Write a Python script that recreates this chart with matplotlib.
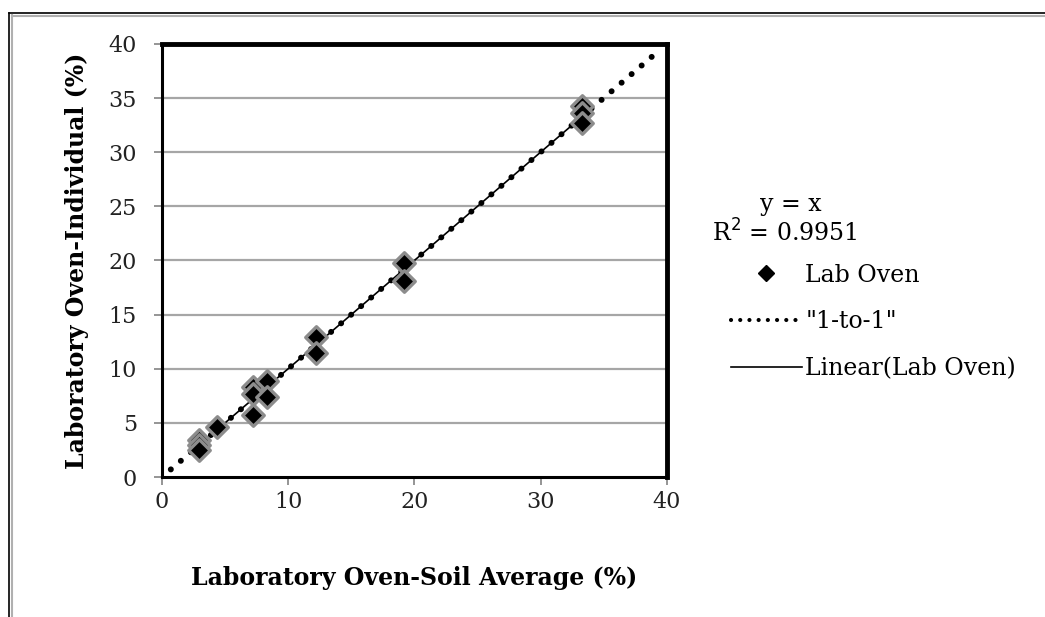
import numpy as np
import matplotlib.pyplot as plt
from matplotlib.lines import Line2D

# soil average vs individual readings (%)
soil_avg = [2.9, 2.9, 2.9, 4.4, 7.2, 7.2, 7.2, 8.3, 8.3, 12.2, 12.2, 19.2, 19.2, 33.3, 33.3, 33.3]
individual = [3.4, 3.0, 2.5, 4.6, 8.3, 7.7, 5.7, 8.9, 7.4, 12.9, 11.5, 19.8, 18.1, 34.3, 33.6, 32.7]
one_to_one = [0.7, 39.3]
x_ticks = [0, 10, 20, 30, 40]
y_ticks = [0, 5, 10, 15, 20, 25, 30, 35, 40]

plt.rcParams['font.family'] = ['DejaVu Serif']

fig = plt.figure(figsize=(10.45, 6.17), dpi=100)
ax = fig.add_axes([0.155, 0.2269, 0.483, 0.7018])

# gridlines
for yv in y_ticks[1:-1]:
    ax.axhline(yv, color='#a6a6a6', lw=1.6, zorder=0)

# 1-to-1 dotted line
ax.plot(one_to_one, one_to_one, color='black', lw=4.3,
        linestyle=(0, (0.01, 2.2)), dash_capstyle='round', zorder=2)

# linear fit (y = x)
fit_x = np.array([min(soil_avg), max(soil_avg)])
ax.plot(fit_x, fit_x, color='black', lw=1.2, zorder=3)

ax.scatter(soil_avg, individual, marker='D', s=120, c='black',
           edgecolors='#8c8c8c', linewidths=2.4, zorder=4)

ax.set_xlim(0, 40)
ax.set_ylim(0, 40)
ax.set_xticks(x_ticks)
ax.set_yticks(y_ticks)
ax.tick_params(direction='out', length=6, width=1.3, color='#8c8c8c',
               labelcolor='#222222', labelsize=16)
ax.tick_params(axis='y', pad=12)
ax.tick_params(axis='x', pad=4)

ax.spines['top'].set_linewidth(3.5)
ax.spines['right'].set_linewidth(3.5)
ax.spines['left'].set_linewidth(2.2)
ax.spines['bottom'].set_linewidth(2.2)
for s in ax.spines.values():
    s.set_color('black')

ax.set_xlabel('Laboratory Oven-Soil Average (%)', fontsize=17,
              fontweight='bold', labelpad=38)
ax.set_ylabel('Laboratory Oven-Individual (%)', fontsize=17,
              fontweight='bold', labelpad=14)

# legend
handles = [
    Line2D([], [], marker='D', color='black', linestyle='none', markersize=8),
    Line2D([], [], color='black', lw=3.0, linestyle=(0, (0.01, 2.2)),
           dash_capstyle='round'),
    Line2D([], [], color='black', lw=1.2),
]
labels = ['Lab Oven', '"1-to-1"', 'Linear(Lab Oven)']
fig.legend(handles, labels, loc='upper left', bbox_to_anchor=(0.679, 0.607),
           frameon=False, fontsize=17, handlelength=3.0, handletextpad=0.15,
           labelspacing=1.0)

fig.text(0.757, 0.668, 'y = x', fontsize=17, ha='center', va='center')
fig.text(0.751, 0.623, 'R$^2$ = 0.9951', fontsize=17, ha='center', va='center')

# outer chart border
fig.add_artist(Line2D([9 / 1045, 9 / 1045], [0, 1 - 13 / 617], color='black', lw=1.2))
fig.add_artist(Line2D([9 / 1045, 1], [1 - 13 / 617, 1 - 13 / 617], color='black', lw=1.2))
fig.add_artist(Line2D([11.5 / 1045, 11.5 / 1045], [0, 1 - 15 / 617], color='#b0b0b0', lw=1.5))
fig.add_artist(Line2D([11.5 / 1045, 1], [1 - 15.5 / 617, 1 - 15.5 / 617], color='#b0b0b0', lw=1.5))

fig.savefig('out.png', dpi=100)
